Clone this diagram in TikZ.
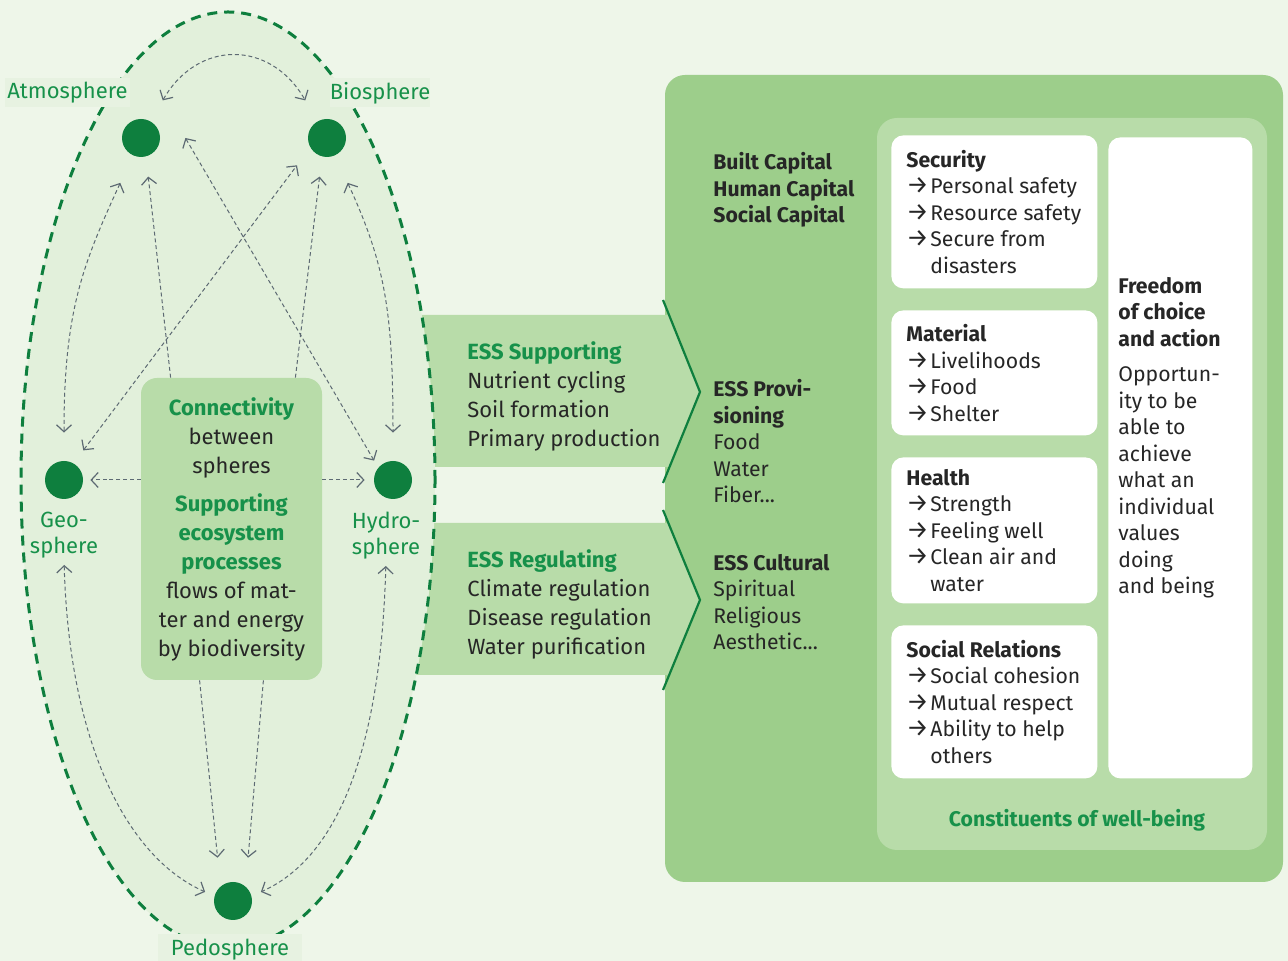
\documentclass[tikz,border=0pt]{standalone}
\usepackage{fontspec}
\setmainfont{Fira Sans}
\usetikzlibrary{arrows.meta,calc}

\definecolor{bgcol}{HTML}{EEF6E9}
\definecolor{ellcol}{HTML}{E2F0DB}
\definecolor{lblcol}{HTML}{E7F2E1}
\definecolor{darkgreen}{HTML}{0E7F3E}
\definecolor{textgreen}{HTML}{17914A}
\definecolor{lightband}{HTML}{B8DCA9}
\definecolor{panelgreen}{HTML}{9DCE8B}
\definecolor{linkgray}{HTML}{5D6A73}
\definecolor{textdark}{HTML}{262626}

\newcommand\greenhead[1]{\textcolor{textgreen}{\textbf{#1}}}
\newcommand\itemarr{\makebox[12pt][l]{\fontsize{12.5}{12}\selectfont →}}
\newcommand\itemgap{\hspace*{12pt}}

\tikzset{
  sphere/.style={circle, fill=darkgreen, minimum size=19pt, inner sep=0pt},
  spherelabel/.style={text=textgreen, font=\fontsize{11}{13}\selectfont, inner sep=0pt},
  labelbox/.style={spherelabel, fill=lblcol, minimum height=14.5pt},
  link/.style={draw=linkgray, line width=0.5pt, dash pattern=on 2pt off 1.4pt},
  tip/.tip={Straight Barb[length=3.5pt,width=7.5pt,line width=0.6pt]},
  both/.style={link, tip-tip},
  one/.style={link, -tip},
  chevron/.style={draw=darkgreen, line width=1.1pt},
  cbox/.style={fill=lightband, rounded corners=8pt, minimum width=90.5pt, minimum height=151pt,
    align=center, font=\fontsize{11}{14.5}\selectfont, text=textdark, inner sep=0pt},
  bandtext/.style={anchor=north west, align=left, font=\fontsize{11}{14.5}\selectfont, text=textdark, inner sep=0pt},
  paneltext/.style={anchor=north west, align=left, font=\fontsize{10.6}{13.25}\selectfont, text=textdark, inner sep=0pt},
  wbox/.style={fill=white, rounded corners=6pt, anchor=north west, inner sep=0pt}
}

\begin{document}
\begin{tikzpicture}[x=0.5pt, y=0.5pt]
\useasboundingbox (0,0) rectangle (1288,961);
\fill[bgcol] (0,0) rectangle (1288,961);

\fill[panelgreen, rounded corners=10pt] (665,79) rectangle (1283,886);
\fill[lightband, rounded corners=10pt] (877,111) rectangle (1267,843);

\fill[lightband] (400,646) -- (669,646) -- (700,569) -- (669,494) -- (400,494) -- cycle;
\fill[lightband] (400,438) -- (669,438) -- (700,361) -- (669,286) -- (400,286) -- cycle;
\draw[chevron] (663,661) -- (700,569) -- (663,478);
\draw[chevron] (663,451) -- (700,361) -- (663,271);

\draw[fill=ellcol, draw=darkgreen, line width=1.5pt, dash pattern=on 5pt off 3.5pt]
  (228,481) ellipse [x radius=103.5pt, y radius=234pt];

\node[labelbox, minimum width=62.5pt] (atmlbl) at (67.5,868) {Atmosphere};
\node[labelbox, minimum width=50pt] (biolbl) at (380,868) {Biosphere};
\node[labelbox, minimum width=72pt, minimum height=16pt] (pedlbl) at (230,11) {Pedosphere};

\node[sphere] (atm) at (141,823) {};
\node[sphere] (bio) at (327,823) {};
\node[sphere] (geo) at (64,481) {};
\node[sphere] (hyd) at (393,481) {};
\node[sphere] (ped) at (233,60) {};
\node[spherelabel, align=center, anchor=north] (geolbl) at (64,449) {Geo-\\sphere};
\node[spherelabel, align=center, anchor=north] (hydlbl) at (386,449) {Hydro-\\sphere};

\node[cbox] (box) at (231.5,432) {\greenhead{Connectivity}\\between\\spheres\\[4.5pt]%
  \greenhead{Supporting}\\\greenhead{ecosystem}\\\greenhead{processes}\\flows of mat-\\ter and energy\\by biodiversity};

\draw[both, shorten <=12pt, shorten >=12pt] (atm.60) to[out=60, in=120, looseness=1.45] (bio.120);
\draw[both, shorten <=15pt, shorten >=14pt] (atm.245) .. controls +(-50,-109) and +(0,150) .. (geo.90);
\draw[both, shorten <=15pt, shorten >=14pt] (bio.-65) .. controls +(50,-109) and +(0,150) .. (hyd.90);
\draw[one, shorten >=10pt] ([xshift=15pt]box.north west) -- (atm.-75);
\draw[one, shorten >=10pt] ([xshift=-13.5pt]box.north east) -- (bio.-105);
\draw[both, shorten <=8pt, shorten >=11pt] (geo.60) -- (bio.-150);
\draw[both, shorten >=4pt] ([xshift=12.5pt]atm.east) -- (hyd.140);
\draw[one, shorten >=3.5pt] (box.west |- geo) -- (geo);
\draw[one, shorten >=4.5pt] (box.east |- hyd) -- (hyd);
\draw[both, shorten <=3pt, shorten >=5pt] (geolbl.south) .. controls +(5,-180) and +(-90,40) .. (ped.165);
\draw[both, shorten <=3pt, shorten >=5pt] (hydlbl.south) .. controls +(-5,-180) and +(90,40) .. (ped.15);
\draw[one, shorten >=12pt] ([xshift=29.5pt]box.south west) -- ([xshift=-6.5pt]ped.north);
\draw[one, shorten >=12pt] ([xshift=-29.5pt]box.south east) -- ([xshift=6.5pt]ped.north);

\node[bandtext] (supp) at (467,620) {\greenhead{ESS Supporting}\\Nutrient cycling\\Soil formation\\Primary production};
\node[bandtext] (regu) at (467,412) {\greenhead{ESS Regulating}\\Climate regulation\\Disease regulation\\Water purification};

\node[paneltext] (capitals) at (713,809) {\textbf{Built Capital}\\\textbf{Human Capital}\\\textbf{Social Capital}};
\node[paneltext] (prov) at (713,582) {\textbf{ESS Provi-}\\\textbf{sioning}\\Food\\Water\\Fiber...};
\node[paneltext] (cult) at (713,407) {\textbf{ESS Cultural}\\Spiritual\\Religious\\Aesthetic...};

\node[wbox, minimum width=103pt, minimum height=76.5pt] (sec) at (891,826) {};
\node[wbox, minimum width=103pt, minimum height=62.5pt] (mat) at (891,651) {};
\node[wbox, minimum width=103pt, minimum height=73pt] (hea) at (891,504) {};
\node[wbox, minimum width=103pt, minimum height=76.5pt] (soc) at (891,336) {};
\node[wbox, minimum width=72pt, minimum height=320.5pt] (fre) at (1108,824) {};

\node[paneltext, anchor=west] (sectext) at ([xshift=7.5pt]sec.west) {\textbf{Security}\\\itemarr Personal safety\\\itemarr Resource safety\\\itemarr Secure from\\\itemgap disasters};
\node[paneltext, anchor=west] (mattext) at ([xshift=7.5pt]mat.west) {\textbf{Material}\\\itemarr Livelihoods\\\itemarr Food\\\itemarr Shelter};
\node[paneltext, anchor=west] (heatext) at ([xshift=7.5pt]hea.west) {\textbf{Health}\\\itemarr Strength\\\itemarr Feeling well\\\itemarr Clean air and\\\itemgap water};
\node[paneltext, anchor=west] (soctext) at ([xshift=7.5pt]soc.west) {\textbf{Social Relations}\\\itemarr Social cohesion\\\itemarr Mutual respect\\\itemarr Ability to help\\\itemgap others};
\node[paneltext] (fretext) at ([xshift=5pt,yshift=-70pt]fre.north west) {\textbf{Freedom}\\\textbf{of choice}\\\textbf{and action}\\[4.5pt]%
  Opportun-\\ity to be\\able to\\achieve\\what an\\individual\\values\\doing\\and being};

\node[font=\fontsize{10.6}{13.25}\selectfont, inner sep=0pt] (const) at (1077,141) {\greenhead{Constituents of well-being}};
\end{tikzpicture}
\end{document}
